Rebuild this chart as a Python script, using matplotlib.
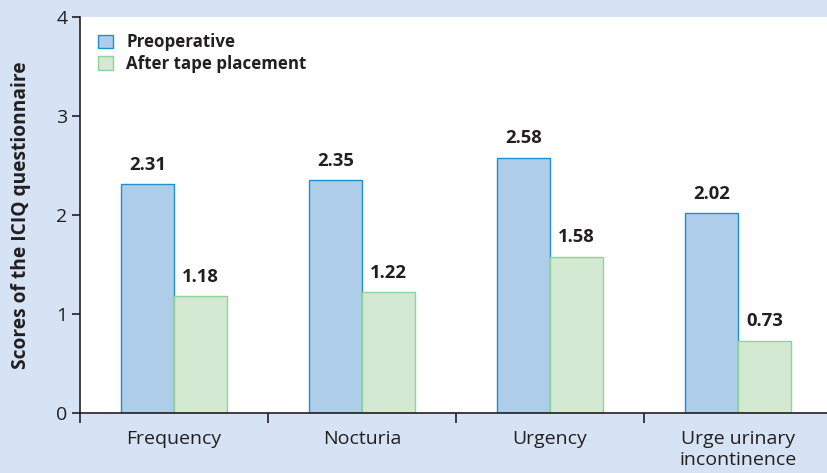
import matplotlib
matplotlib.use("Agg")
import matplotlib.pyplot as plt
import numpy as np
from matplotlib.patches import Patch

categories = ["Frequency", "Nocturia", "Urgency", "Urge urinary\nincontinence"]
preoperative = [2.31, 2.35, 2.58, 2.02]
after_tape = [1.18, 1.22, 1.58, 0.73]
series_names = ["Preoperative", "After tape placement"]
yticks = [0, 1, 2, 3, 4]

plt.rcParams['font.family'] = ['Open Sans', 'DejaVu Sans']

bg = "#d5e3f4"
blue_fill, blue_edge = "#aecde9", "#1f8fd2"
green_fill, green_edge = "#d3e9d2", "#8ed39b"
txt = "#231f20"

fig = plt.figure(figsize=(8.27, 4.73), dpi=100, facecolor=bg)
ax = fig.add_axes([80/827, 1-413/473, 1-80/827, (413-17)/473])
ax.set_facecolor("white")

x = np.arange(len(categories))
w = 0.28
b1 = ax.bar(x - w/2, preoperative, w, color=blue_fill, edgecolor=blue_edge, linewidth=1.0)
b2 = ax.bar(x + w/2, after_tape, w, color=green_fill, edgecolor=green_edge, linewidth=1.0)

for rect, v in zip(list(b1) + list(b2), preoperative + after_tape):
    ax.annotate(f"{v:.2f}", (rect.get_x() + rect.get_width()/2, v),
                xytext=(0, 7.5), textcoords="offset points", ha="center", va="bottom",
                fontsize=13.3, fontweight="bold", color=txt)

ax.set_xlim(-0.5, -0.5 + 747/188)
ax.set_ylim(0, 4)
ax.set_yticks(yticks)
ax.set_yticklabels([str(t) for t in yticks], fontsize=14, color=txt)
ax.set_xticks(x)
ax.set_xticklabels(categories, fontsize=14, color=txt, linespacing=1.25)
ax.tick_params(axis="x", which="major", length=0, pad=12)
ax.set_xticks(np.arange(-0.5, 3.0, 1.0), minor=True)
ax.tick_params(axis="x", which="minor", length=7, width=1.2, color=txt, direction="out")
ax.tick_params(axis="y", length=6, width=1.2, color=txt, direction="out", pad=3)

for s in ["top", "right"]:
    ax.spines[s].set_visible(False)
for s in ["left", "bottom"]:
    ax.spines[s].set_color(txt)
    ax.spines[s].set_linewidth(1.2)

ax.set_ylabel("Scores of the ICIQ questionnaire", fontsize=13.8, fontweight="bold", color=txt)
ax.yaxis.set_label_coords(-49/747, 0.5)

handles = [Patch(facecolor=blue_fill, edgecolor=blue_edge, label=series_names[0]),
           Patch(facecolor=green_fill, edgecolor=green_edge, label=series_names[1])]
leg = ax.legend(handles=handles, loc="upper left", bbox_to_anchor=(0.004, 0.997), frameon=False,
                prop={"size": 12.2, "weight": "bold"}, handlelength=0.85, handleheight=0.85,
                handletextpad=0.8, labelspacing=0.2)
for t in leg.get_texts():
    t.set_color(txt)

fig.savefig("out.png", dpi=100, facecolor=bg)
